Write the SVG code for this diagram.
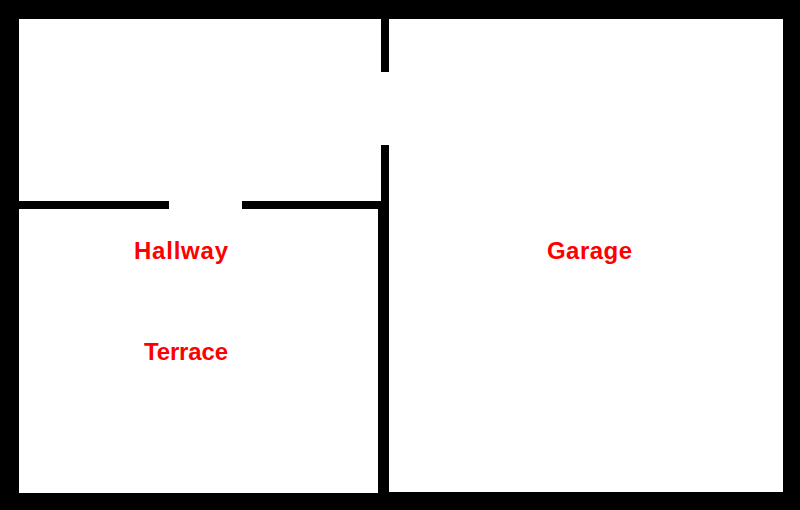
<svg xmlns="http://www.w3.org/2000/svg" width="800" height="510" viewBox="0 0 800 510">
<style>.w{fill:#000}.t{font:bold 24px "Liberation Sans",Arial,sans-serif;fill:#f00}</style>
<rect width="800" height="510" fill="#fff"/>
<rect class="w" x="0" y="0" width="800" height="19"/>
<rect class="w" x="0" y="493" width="378" height="17"/>
<rect class="w" x="378" y="492" width="422" height="18"/>
<rect class="w" x="0" y="0" width="19" height="510"/>
<rect class="w" x="783" y="0" width="17" height="510"/>
<rect class="w" x="381" y="19" width="8" height="53"/>
<rect class="w" x="381" y="145" width="8" height="60"/>
<rect class="w" x="378" y="201" width="11" height="292"/>
<rect class="w" x="19" y="201" width="150" height="8"/>
<rect class="w" x="242" y="201" width="139" height="8"/>
<text class="t" x="134" y="259" textLength="94" lengthAdjust="spacing">Hallway</text>
<text class="t" x="144" y="360" textLength="84" lengthAdjust="spacing">Terrace</text>
<text class="t" x="547" y="259" textLength="85" lengthAdjust="spacing">Garage</text>
</svg>
